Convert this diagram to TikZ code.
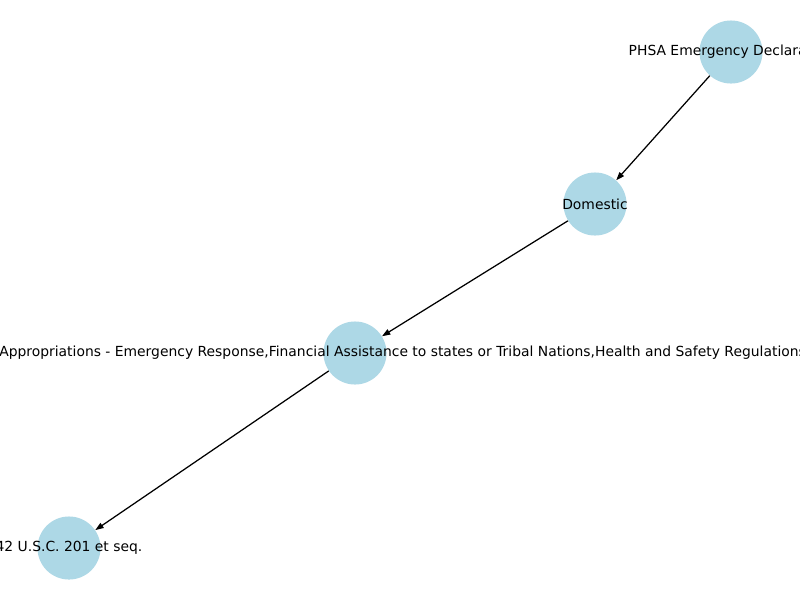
\documentclass[tikz,border=0pt]{standalone}
\usepackage{fontspec}
\setmainfont{DejaVu Sans}
\usetikzlibrary{arrows.meta}
\definecolor{nodeblue}{HTML}{ADD8E6}
\tikzset{
  gnode/.style={circle, fill=nodeblue, draw=none, minimum size=45.4pt, inner sep=0pt},
  glabel/.style={inner sep=0pt, font=\fontsize{10pt}{12pt}\selectfont, text=black},
  gedge/.style={draw=black, line width=0.9pt, -{Triangle[length=6pt,width=4.2pt]}, shorten >=0pt}
}
\begin{document}
\begin{tikzpicture}[x=0.72pt,y=-0.72pt]
\useasboundingbox (0,0) rectangle (800,600);
\fill[white] (0,0) rectangle (800,600);
\clip (0,0) rectangle (800,600);
\node[gnode] (phsa) at (731,52) {};
\node[gnode] (dom) at (595,204) {};
\node[gnode] (app) at (355,353) {};
\node[gnode] (usc) at (69,548) {};
\draw[gedge] (phsa) -- (dom);
\draw[gedge] (dom) -- (app);
\draw[gedge] (app) -- (usc);
\node[glabel] (lphsa) at (731,52) {PHSA Emergency Declaration};
\node[glabel] (ldom) at (595,204) {Domestic};
\node[glabel, anchor=west] (lapp) at (-1,353) {Appropriations - Emergency Response,Financial Assistance to states or Tribal Nations,Health and Safety Regulations};
\node[glabel] (lusc) at (69,548) {42 U.S.C. 201 et seq.};
\end{tikzpicture}
\end{document}
